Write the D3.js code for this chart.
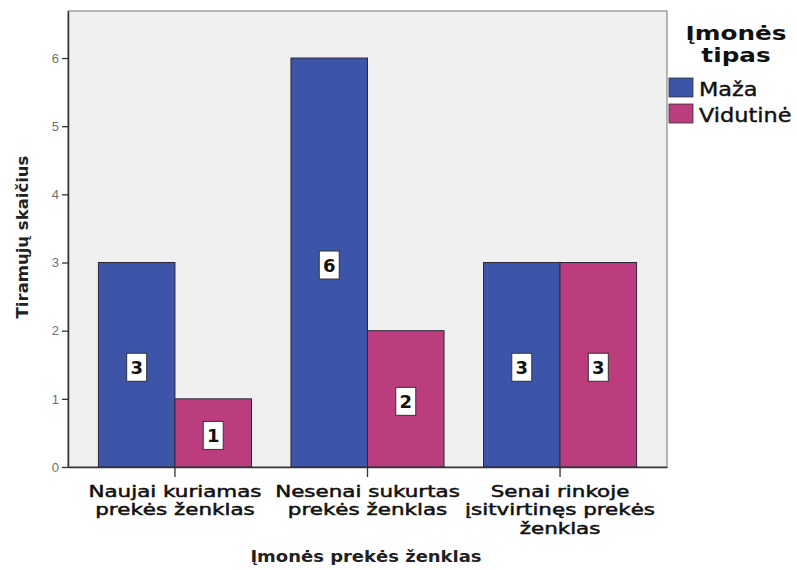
<!DOCTYPE html>
<html>
<head>
<meta charset="utf-8">
<script src="https://cdn.jsdelivr.net/npm/d3@7"></script>
<style>
  body { margin: 0; background: #fff; }
  svg { display: block; }
</style>
</head>
<body>
<svg id="chart" width="797" height="570"></svg>
<script>
// Brand type categories (each label split over lines)
const categories = ["Naujai kuriamas prekės ženklas", "Nesenai sukurtas prekės ženklas", "Senai rinkoje įsitvirtinęs prekės ženklas"];
const categoryLines = [
  ["Naujai kuriamas", "prekės ženklas"],
  ["Nesenai sukurtas", "prekės ženklas"],
  ["Senai rinkoje", "įsitvirtinęs prekės", "ženklas"]
];
const seriesNames = ["Maža", "Vidutinė"];
const mazaValues = [3, 6, 3];
const vidutineValues = [1, 2, 3];
const yTicks = [0, 1, 2, 3, 4, 5, 6];
const colors = ["#3c55a9", "#bb3d7d"];

const svg = d3.select("#chart");
const font = "'DejaVu Sans', sans-serif";

const plot = { left: 68, right: 667, top: 11, bottom: 467 };

// text drawn slightly widened horizontally
function wideText(parent, x, y, sx, lines, lineH, opts) {
  const t = parent.append("text")
    .attr("transform", `translate(${x},${y}) scale(${sx},1)`)
    .attr("text-anchor", opts.anchor || "middle")
    .attr("font-family", font)
    .attr("font-size", opts.size)
    .attr("font-weight", opts.weight || "normal")
    .attr("fill", opts.fill || "#111");
  if (opts.stroke) {
    t.attr("stroke", opts.fill || "#111").attr("stroke-width", opts.stroke);
  }
  lines.forEach((line, j) => {
    t.append("tspan").attr("x", 0).attr("y", j * lineH).text(line);
  });
  return t;
}

const x = d3.scaleBand()
  .domain(categories)
  .range([plot.left, plot.right])
  .paddingInner(0.205)
  .paddingOuter(0.158);

const xInner = d3.scaleBand()
  .domain(seriesNames)
  .range([0, x.bandwidth()]);

const y = d3.scaleLinear()
  .domain([0, 6.69])
  .range([plot.bottom, plot.top]);

// plot background
svg.append("rect")
  .attr("x", plot.left).attr("y", plot.top)
  .attr("width", plot.right - plot.left).attr("height", plot.bottom - plot.top)
  .attr("fill", "#f0f0f0")
  .attr("stroke", "#8a8a8a").attr("stroke-width", 1.2);

const rows = categories.map((c, i) => ({
  cat: c,
  values: [
    { series: seriesNames[0], value: mazaValues[i], color: colors[0] },
    { series: seriesNames[1], value: vidutineValues[i], color: colors[1] }
  ]
}));

const groups = svg.append("g").selectAll("g")
  .data(rows).join("g")
  .attr("transform", d => `translate(${x(d.cat)},0)`);

groups.selectAll("rect")
  .data(d => d.values).join("rect")
  .attr("x", d => xInner(d.series))
  .attr("y", d => y(d.value))
  .attr("width", xInner.bandwidth())
  .attr("height", d => y(0) - y(d.value))
  .attr("fill", d => d.color)
  .attr("stroke", "#2a2a3a").attr("stroke-width", 1);

// value labels in white boxes at bar mid-height
const lbl = groups.selectAll("g.lbl")
  .data(d => d.values).join("g")
  .attr("class", "lbl")
  .attr("transform", d => `translate(${xInner(d.series) + xInner.bandwidth() / 2},${y(d.value / 2) + 2.5})`);

lbl.append("rect")
  .attr("x", -10).attr("y", -14)
  .attr("width", 20).attr("height", 28)
  .attr("fill", "#fff")
  .attr("stroke", "#333").attr("stroke-width", 1);

lbl.append("text")
  .attr("text-anchor", "middle")
  .attr("dy", "0.36em")
  .attr("font-family", font)
  .attr("font-weight", "bold")
  .attr("font-size", 18)
  .attr("fill", "#111")
  .text(d => d.value);

// y axis
const yAxis = svg.append("g")
  .attr("transform", `translate(${plot.left},0)`)
  .call(d3.axisLeft(y).tickValues(yTicks).tickSize(6).tickSizeOuter(0).tickPadding(3).tickFormat(d3.format("d")));
yAxis.select(".domain").attr("stroke", "#333").attr("stroke-width", 1.5);
yAxis.selectAll(".tick line").attr("stroke", "#333").attr("stroke-width", 1.3);
yAxis.selectAll(".tick text")
  .attr("font-family", "'Liberation Sans', Arial, sans-serif")
  .attr("font-size", 13)
  .attr("fill", "#707070");

// x axis
const xAxis = svg.append("g")
  .attr("transform", `translate(0,${plot.bottom})`)
  .call(d3.axisBottom(x).tickSize(10).tickSizeOuter(0).tickFormat(""));
xAxis.select(".domain").attr("stroke", "#333").attr("stroke-width", 1.5);
xAxis.selectAll(".tick line").attr("stroke", "#333").attr("stroke-width", 1.3);

// category labels
categories.forEach((c, i) => {
  wideText(svg, x(c) + x.bandwidth() / 2, 497, 1.3, categoryLines[i], 18.5,
    { size: 16.5, fill: "#111", stroke: 0.5 });
});

// axis titles
wideText(svg, 366, 562, 1.2, ["Įmonės prekės ženklas"], 0,
  { size: 15, weight: "bold", fill: "#222" });

svg.append("text")
  .attr("transform", "translate(28,237) rotate(-90)")
  .attr("text-anchor", "middle")
  .attr("font-family", font)
  .attr("font-weight", "bold")
  .attr("font-size", 16.5)
  .attr("fill", "#222")
  .text("Tiramųjų skaičius");

// legend
const legend = svg.append("g");
wideText(legend, 736, 40, 1.3, ["Įmonės", "tipas"], 22,
  { size: 19, weight: "bold", fill: "#111" });

const items = legend.selectAll("g.item")
  .data(seriesNames).join("g")
  .attr("class", "item")
  .attr("transform", (d, i) => `translate(669,${78 + i * 26})`);
items.append("rect")
  .attr("width", 24).attr("height", 19)
  .attr("fill", (d, i) => colors[i])
  .attr("stroke", "#333").attr("stroke-width", 0.8);
items.each(function (d) {
  wideText(d3.select(this), 30, 18, 1.18, [d], 0,
    { size: 19, anchor: "start", fill: "#111", stroke: 0.4 });
});
</script>
</body>
</html>
